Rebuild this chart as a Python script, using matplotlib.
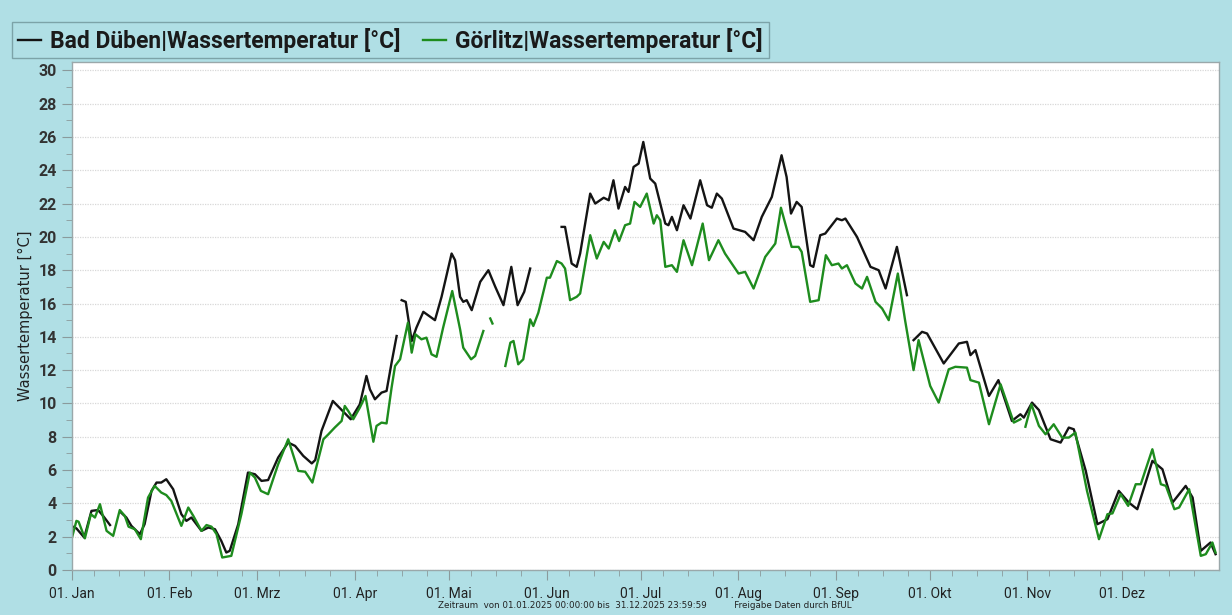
import numpy as np
import matplotlib
matplotlib.use("Agg")
import matplotlib.pyplot as plt
from matplotlib.ticker import MultipleLocator, FixedLocator

nan = np.nan

# day of year (0 = 01. Jan) and water temperature, NaN = gap in the record
dueben_day = [0.3, 1.4, 3.9, 6.2, 8.3, 9.9, 12.1, 13.5,
              15.6, 17.3, 18.9, 21.6, 23.1, 25.3, 26.9, 28.4, 30, 32.2, 34.8, 36.4, 38, 41.2,
              43.4, 45.5, 47.5, 49.1, 50.2, 52.9, 56, 58.2, 60.3, 62.4, 65.6, 68.8, 71, 73.6,
              76.3, 77.4, 79.4, 80.4, 83, 86.6, 88.7, 91.6, 93.7, 94.8, 96.4, 98.5, 100.1,
              101.7, 103.3, 104.1,
              104.9, 106.2, 108.1, 109.6, 111.8, 115.5, 117.6, 120.8, 121.9, 123.5, 124.5,
              125.6, 127.2, 129.9, 132.5, 134.7, 137.3, 139.8, 141.8, 143.9, 145.8, 150,
              155.8, 156.9, 159, 160.6, 161.7, 164.9, 166.5, 169.2, 170.8, 172.3, 173.9, 176,
              177.1, 178.7, 180.3, 181.8, 184, 185.6, 188.8, 189.8, 190.9, 192.5, 194.6, 196.8,
              199.9, 202.1, 203.6, 205.2, 206.8, 210.5, 214.2, 216.9, 219.5, 222.7, 225.8,
              227.4, 228.8, 230.6, 232.2, 234.9, 235.9, 238.1, 239.7, 243.4, 245, 246.1, 249.8,
              254.1, 256.7, 258.9, 262.5, 265.7, 266.8,
              267.8, 270.5, 272.1, 277.4, 282.2, 284.8, 285.9, 287.5, 291.8, 294.8, 299.1,
              301.8, 302.9, 305.5, 307.7, 311.4, 314.6, 317.2, 318.8, 322.6, 326.3, 329.5,
              333.1, 336.3, 339, 343.8, 347, 350.2, 354.4, 356.6, 359.2, 362.3, 363.9]
dueben_temp = [2.6, 2.5, 1.95, 3.55, 3.6, 3.25, 2.7, nan,
               3.45, 3.15, 2.65, 2.15, 2.75, 4.75, 5.25, 5.25, 5.45, 4.85, 3.35, 2.95, 3.15, 2.35,
               2.55, 2.45, 1.75, 1.05, 1.15, 2.75, 5.85, 5.75, 5.35, 5.4, 6.75, 7.65, 7.45, 6.85,
               6.4, 6.6, 8.35, 8.85, 10.15, 9.45, 9.05, 9.95, 11.65, 10.85, 10.25, 10.65, 10.75,
               12.45, 14.05, nan,
               16.2, 16.1, 13.75, 14.55, 15.5, 15.0, 16.4, 19.0, 18.6, 16.4, 16.1,
               16.2, 15.6, 17.3, 18.0, 17.0, 15.9, 18.2, 15.9, 16.7, 18.1, nan,
               20.6, 20.6, 18.4, 18.2, 19.0, 22.6, 22.0, 22.35, 22.2, 23.4, 21.7, 23.0,
               22.7, 24.2, 24.4, 25.7, 23.5, 23.2, 20.8, 20.7, 21.2, 20.4, 21.9, 21.1,
               23.4, 21.9, 21.75, 22.6, 22.3, 20.5, 20.3, 19.8, 21.2, 22.4, 24.9,
               23.6, 21.4, 22.1, 21.8, 18.3, 18.2, 20.1, 20.2, 21.1, 21.0, 21.1, 20.0,
               18.2, 18.0, 16.9, 19.4, 16.5, nan,
               13.8, 14.3, 14.2, 12.4, 13.6, 13.7, 12.9, 13.2, 10.45, 11.4, 8.95,
               9.35, 9.15, 10.05, 9.6, 7.85, 7.65, 8.55, 8.45, 5.95, 2.75, 3.05,
               4.75, 4.05, 3.65, 6.55, 6.05, 4.05, 5.05, 4.35, 1.15, 1.65, 0.95]

goerlitz_day = [0, 1.4, 2.1, 4.1, 6, 7.3, 8.9, 11, 13.1, 15.2, 16.8, 18, 20, 21.9, 24.2, 26.3,
                28.4, 30, 31.6, 34.8, 37, 38.6, 41.2, 42.8, 44.4, 46, 47.8, 50.7, 53.9, 56.6,
                58.2, 60.1, 62.4, 65.6, 68.8, 72, 74.2, 76.5, 80, 81.6, 83.6, 85.8, 86.8, 87.9,
                89.5, 91.6, 93.4, 95.9, 96.9, 98.5, 100.1, 101.7, 102.8, 104.4, 106.9, 108.1,
                109.3, 111.2, 112.8, 114.4, 116, 118.1, 121, 123.5, 124.5, 127, 128.3, 130.9,
                132,
                133.1, 133.8, 135,
                137.9, 139.5, 140.5, 142, 143.6, 145.8, 146.8, 148.4, 151.1, 152.1, 154.3,
                155.8, 156.9, 158.5, 160.6, 161.7, 164.9, 167, 169.2, 170.8, 172.8, 174.1, 176,
                177.6, 179, 180.8, 182.9, 185.1, 186.1, 187.2, 188.8, 190.9, 192.5, 194.6,
                197.3, 200.7, 202.7, 205.7, 207.8, 212.1, 214.2, 216.9, 220.6, 223.8, 225.6,
                229, 231.2, 232.2, 234.9, 237.6, 239.9, 241.8, 243.9, 245, 246.6, 249.3, 251.4,
                253, 255.7, 257.8, 259.9, 262.8, 265.1, 267.8, 269.4, 273.1, 275.8, 279, 281.1,
                284.8, 285.9, 288.6, 291.8, 295.5, 299.7, 301.8, 302.6,
                303.4, 305.3, 307.7, 309.8, 312.4, 315.1, 317.2, 319.3, 323, 326.8, 329.5,
                331.1, 333.7, 336.1, 338.5, 340.1, 343.8, 346.5, 348.1, 350.8, 352.3, 355.5,
                359.2, 360.8, 362.9, 363.9]
goerlitz_temp = [1.95, 2.95, 2.9, 1.9, 3.35, 3.15, 3.95, 2.35, 2.05, 3.6, 3.25, 2.6, 2.45, 1.85,
                 4.35, 5.05, 4.65, 4.5, 4.15, 2.65, 3.75, 3.25, 2.35, 2.7, 2.6, 2.15, 0.75, 0.85,
                 3.35, 5.85, 5.55, 4.75, 4.55, 6.35, 7.85, 5.95, 5.9, 5.25, 7.85, 8.15, 8.55,
                 8.95, 9.85, 9.55, 9.05, 9.75, 10.45, 7.7, 8.65, 8.85, 8.8, 10.95, 12.25, 12.65,
                 14.85, 13.05, 14.15, 13.85, 13.95, 12.95, 12.8, 14.55, 16.75, 14.45, 13.35,
                 12.65, 12.85, 14.35,
                 nan,
                 15.1, 14.8, nan,
                 12.25, 13.65, 13.75, 12.35, 12.65, 15.05, 14.65, 15.45, 17.55, 17.55, 18.55,
                 18.4, 18.1, 16.2, 16.4, 16.6, 20.1, 18.7, 19.7, 19.3, 20.4, 19.75, 20.7,
                 20.8, 22.1, 21.8, 22.6, 20.8, 21.3, 21.0, 18.2, 18.3, 17.9, 19.8,
                 18.3, 20.8, 18.6, 19.8, 19.0, 17.8, 17.9, 16.9, 18.8, 19.6, 21.75,
                 19.4, 19.4, 19.1, 16.1, 16.2, 18.9, 18.3, 18.4, 18.1, 18.3, 17.2, 16.9,
                 17.6, 16.1, 15.7, 15.0, 17.8, 15.0, 12.0, 13.8, 11.05, 10.05, 12.05, 12.2,
                 12.15, 11.4, 11.25, 8.75, 11.15, 8.85, 9.05, nan,
                 8.6, 9.95, 8.65, 8.15, 8.75, 7.95, 7.95, 8.25, 4.75, 1.85, 3.35,
                 3.4, 4.55, 3.85, 5.15, 5.15, 7.25, 5.15, 5.05, 3.65, 3.75, 4.85,
                 0.85, 0.95, 1.65, 1.05]

month_start = [0, 31, 59, 90, 120, 151, 181, 212, 243, 273, 304, 334]
month_labels = ["01. Jan", "01. Feb", "01. Mrz", "01. Apr", "01. Mai", "01. Jun",
                "01. Jul", "01. Aug", "01. Sep", "01. Okt", "01. Nov", "01. Dez"]
month_len = [31, 28, 31, 30, 31, 30, 31, 31, 30, 31, 30, 31]

bg = "#b0dfe5"
narrow = ["Roboto", "DejaVu Sans"]

fig = plt.figure(figsize=(12.32, 6.15), dpi=100, facecolor=bg)
ax = fig.add_axes([72 / 1232, 45 / 615, (1219 - 72) / 1232, (570 - 62) / 615])
ax.set_facecolor("white")

l1, = ax.plot(dueben_day, dueben_temp, color="#141414", lw=1.7,
              label="Bad Düben|Wassertemperatur [°C]")
l2, = ax.plot(goerlitz_day, goerlitz_temp, color="#1e8c1e", lw=1.7,
              label="Görlitz|Wassertemperatur [°C]")

ax.set_xlim(0, 365)
ax.set_ylim(0, 30.5)

ax.set_yticks(np.arange(0, 31, 2))
ax.yaxis.set_minor_locator(MultipleLocator(1))
ax.set_xticks(month_start)
ax.set_xticklabels(month_labels, family=narrow, fontsize=10, color="#222222")
minor = []
for s, n in zip(month_start, month_len):
    minor += [s + 7, s + 15, s + 23]
ax.xaxis.set_minor_locator(FixedLocator(minor))

ax.tick_params(axis="y", which="major", length=7, color="#8a9a9c", labelsize=11.5,
               labelcolor="#333333", pad=4)
ax.tick_params(axis="y", which="minor", length=4, color="#8a9a9c")
ax.tick_params(axis="x", which="major", length=7, color="#8a9a9c", pad=5)
ax.tick_params(axis="x", which="minor", length=4, color="#8a9a9c")
for t in ax.get_yticklabels():
    t.set_fontweight("bold")
    t.set_family(narrow)

ax.grid(axis="y", color="#d8d8d8", ls=(0, (1, 1)), lw=0.9)
ax.set_axisbelow(True)
for s in ax.spines.values():
    s.set_color("#9aa8aa")
    s.set_linewidth(1.0)

ax.set_ylabel("Wassertemperatur [°C]", fontsize=10.5, color="#222222", labelpad=4)

leg = fig.legend(handles=[l1, l2], loc="upper left", bbox_to_anchor=(12 / 1232, 1 - 22 / 615),
                 ncol=2, frameon=True, fancybox=False, handlelength=1.0, handletextpad=0.4,
                 columnspacing=1.0, borderpad=0.25, borderaxespad=0,
                 prop={"family": narrow, "weight": "bold", "size": 16.5})
leg.get_frame().set_facecolor(bg)
leg.get_frame().set_edgecolor("#6f9499")
leg.get_frame().set_linewidth(1.0)
for t in leg.get_texts():
    t.set_color("#1a1a1a")

fig.text(645 / 1232, 1 - 606 / 615,
         "Zeitraum  von 01.01.2025 00:00:00 bis  31.12.2025 23:59:59          Freigabe Daten durch BfUL",
         ha="center", va="center", fontsize=6.3, color="#222222")

fig.savefig("out.png", dpi=100, facecolor=bg)
